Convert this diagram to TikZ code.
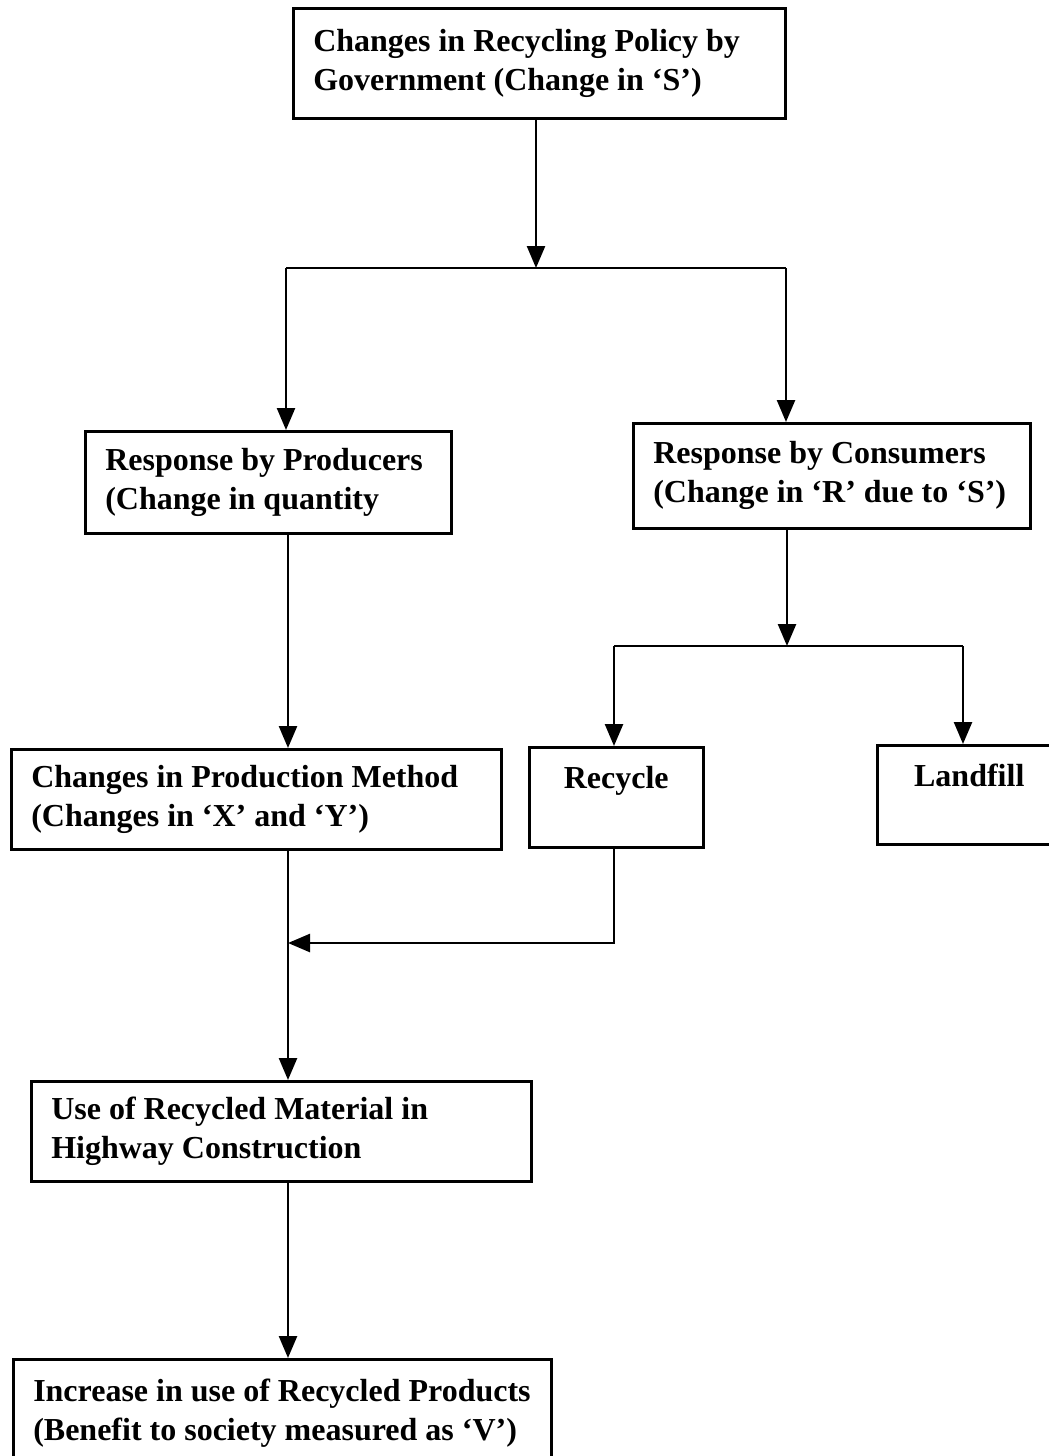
\documentclass[tikz,border=0pt]{standalone}
\usepackage{fontspec}
\setmainfont{Liberation Serif}
\usetikzlibrary{arrows.meta}
\usetikzlibrary{positioning}

\begin{document}
\begin{tikzpicture}[x=1pt,y=-1pt,
			box/.style={draw,line width=2.5pt,anchor=north west,align=left,
				inner xsep=20pt,inner ysep=0pt,font=\fontsize{32}{39}\selectfont\bfseries,
				execute at begin node={\spaceskip=0pt\xspaceskip=0pt\hyphenpenalty=10000\relax}},
			flow/.style={line width=2.5pt,-{Triangle[length=22pt,width=18pt]}},
			link/.style={line width=2.5pt}]
		\useasboundingbox (0,0) rectangle (1049,1456);
		% boxes
		\node[box,text width=452pt,minimum height=110pt] (gov) at (292,7)
			{Changes in Recycling Policy by\\Government (Change in `S')};
		\node[box,text width=326pt,minimum height=102pt] (prod) at (84,430)
			{Response by Producers\\(Change in quantity};
		\node[box,text width=357pt,minimum height=105pt] (cons) at (632,422)
			{Response by Consumers\\(Change in `R' due to `S')};
		\node[box,text width=450pt,minimum height=100pt] (method) at (10,748)
			{Changes in Production Method\\(Changes in `X' and `Y')};
		\node[box,align=center,text width=134pt,minimum height=100pt] (recycle) at (528,746)
			{Recycle\\\mbox{}};
		\node[box,align=center,text width=144pt,minimum height=99pt] (landfill) at (876,744)
			{Landfill\\\mbox{}};
		\node[box,text width=460pt,minimum height=100pt] (use) at (30,1080)
			{Use of Recycled Material in\\Highway Construction};
		\node[box,text width=498pt,minimum height=108pt] (final) at (12,1358)
			{Increase in use of Recycled Products\\(Benefit to society measured as `V')};
		% junctions
		\coordinate (fork) at (536,268);
		\coordinate (forkL) at (286,268);
		\coordinate (forkR) at (786,268);
		\coordinate (fork2) at (787,646);
		\coordinate (fork2L) at (614,646);
		\coordinate (fork2R) at (963,646);
		\coordinate (spine) at (288,0);
		\coordinate (merge) at (288,943);
		% connectors
		\draw[flow] (gov.south -| fork) -- (fork);
		\draw[link] (forkL) -- (forkR);
		\draw[flow] (forkL) -- (forkL |- prod.north);
		\draw[flow] (forkR) -- (forkR |- cons.north);
		\draw[flow] (spine |- prod.south) -- (spine |- method.north);
		\draw[flow] (cons.south -| fork2) -- (fork2);
		\draw[link] (fork2L) -- (fork2R);
		\draw[flow] (fork2L) -- (fork2L |- recycle.north);
		\draw[flow] (fork2R) -- (fork2R |- landfill.north);
		\draw[flow] (recycle.south -| fork2L) |- (merge);
		\draw[flow] (spine |- method.south) -- (spine |- use.north);
		\draw[flow] (spine |- use.south) -- (spine |- final.north);
\end{tikzpicture}
\end{document}
